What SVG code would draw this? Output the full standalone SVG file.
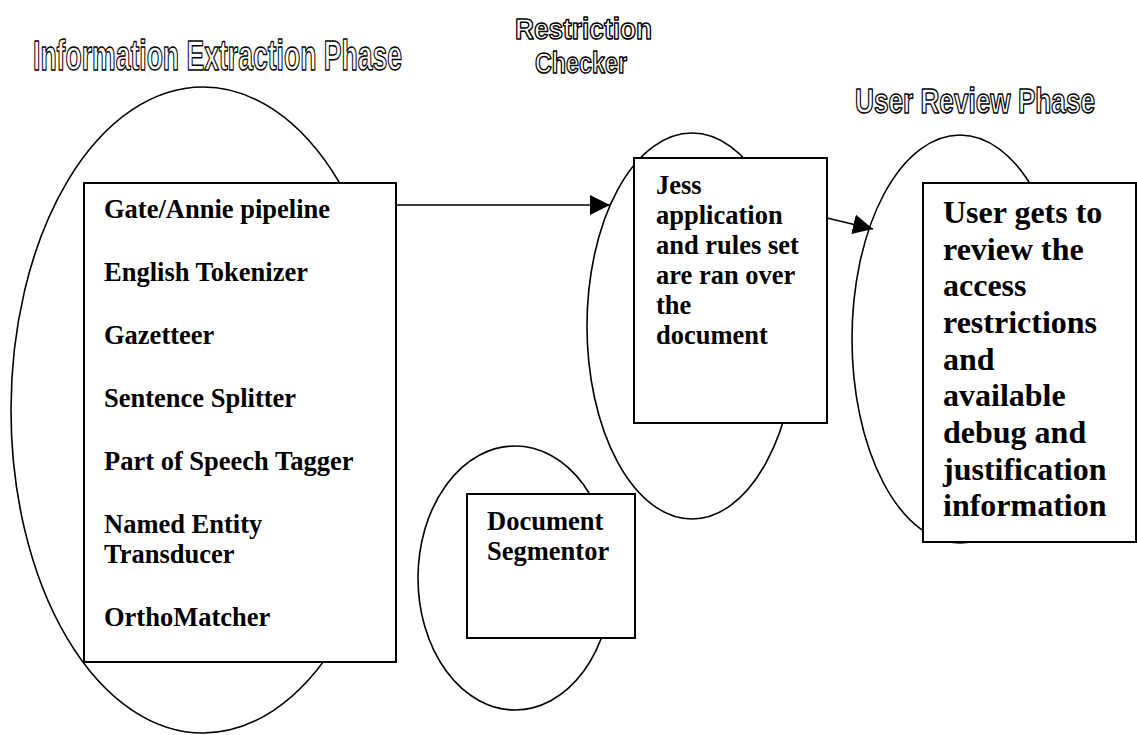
<svg xmlns="http://www.w3.org/2000/svg" width="1137" height="735" viewBox="0 0 1137 735">
<style>
.ell{fill:none;stroke:#000;stroke-width:1.6}
.box{fill:#fff;stroke:#000;stroke-width:2}
.t{font-family:"Liberation Serif","Times New Roman",serif;font-weight:bold;font-size:26.5px;fill:#000}
.big{font-size:32px}
.h{font-family:"Liberation Sans",Arial,sans-serif;font-weight:bold;fill:#fff;stroke:#000;stroke-width:1.5;stroke-linejoin:round}
.con{stroke:#000;stroke-width:1.5;fill:none}
</style>
<defs>
<marker id="ah" markerWidth="20" markerHeight="20" refX="20" refY="10" orient="auto" markerUnits="userSpaceOnUse">
<path d="M0,0 L20,10 L0,20 Z" fill="#000"/>
</marker>
</defs>
<rect width="1137" height="735" fill="#fff"/>

<g id="headings">
<text class="h" x="33" y="70" font-size="42" textLength="369" lengthAdjust="spacingAndGlyphs">Information Extraction Phase</text>
<text class="h" x="515" y="39" font-size="30" textLength="137" lengthAdjust="spacingAndGlyphs">Restriction</text>
<text class="h" x="535" y="73" font-size="30" textLength="92" lengthAdjust="spacingAndGlyphs">Checker</text>
<text class="h" x="855" y="113" font-size="35" textLength="240" lengthAdjust="spacingAndGlyphs">User Review Phase</text>
</g>

<g id="extraction">
<ellipse class="ell" cx="203" cy="410" rx="192" ry="323"/>
<rect class="box" x="84" y="183" width="312" height="479"/>
<text class="t" x="104" y="218">Gate/Annie pipeline</text>
<text class="t" x="104" y="281">English Tokenizer</text>
<text class="t" x="104" y="344">Gazetteer</text>
<text class="t" x="104" y="407">Sentence Splitter</text>
<text class="t" x="104" y="470">Part of Speech Tagger</text>
<text class="t" x="104" y="533">Named Entity</text>
<text class="t" x="104" y="563">Transducer</text>
<text class="t" x="104" y="626">OrthoMatcher</text>
</g>

<g id="segmentor">
<ellipse class="ell" cx="515" cy="578" rx="97" ry="132"/>
<rect class="box" x="467" y="494" width="168" height="144"/>
<text class="t" x="487" y="530">Document</text>
<text class="t" x="487" y="560">Segmentor</text>
</g>

<g id="checker">
<ellipse class="ell" cx="692" cy="326" rx="105" ry="193"/>
<rect class="box" x="634" y="158" width="193" height="265"/>
<text class="t" x="656" y="194">Jess</text>
<text class="t" x="656" y="224">application</text>
<text class="t" x="656" y="254">and rules set</text>
<text class="t" x="656" y="284">are ran over</text>
<text class="t" x="656" y="314">the</text>
<text class="t" x="656" y="344">document</text>
</g>

<g id="review">
<ellipse class="ell" cx="960" cy="339" rx="108" ry="204"/>
<rect class="box" x="923" y="183" width="213" height="359"/>
<text class="t big" x="943" y="223">User gets to</text>
<text class="t big" x="943" y="260">review the</text>
<text class="t big" x="943" y="296">access</text>
<text class="t big" x="943" y="333">restrictions</text>
<text class="t big" x="943" y="370">and</text>
<text class="t big" x="943" y="406">available</text>
<text class="t big" x="943" y="443">debug and</text>
<text class="t big" x="943" y="480">justification</text>
<text class="t big" x="943" y="516">information</text>
</g>

<g id="connectors">
<line class="con" x1="396" y1="205" x2="610" y2="205" marker-end="url(#ah)"/>
<line class="con" x1="827" y1="218" x2="873" y2="229" marker-end="url(#ah)"/>
</g>
</svg>
